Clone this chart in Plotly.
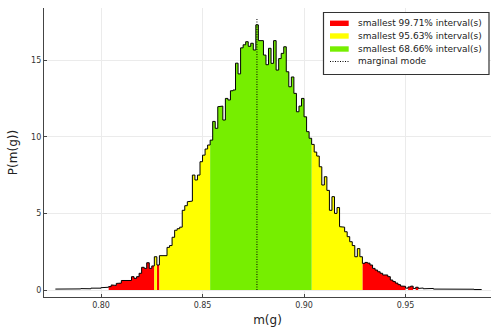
import plotly.graph_objects as go

# ---------------- data ----------------
bin_start = 0.7775
bin_width = 0.00125
density = [
    # 0.7775 .. (left tail, unshaded)
    0.06, 0.05, 0.08, 0.04, 0.06, 0.07, 0.05, 0.08, 0.06, 0.07, 0.09, 0.06, 0.10, 0.08, 0.12, 0.10,
    0.14, 0.12, 0.15, 0.16, 0.18,
    # 0.80375 .. 0.82875
    0.22, 0.33, 0.30, 0.43, 0.45, 0.62, 0.58, 0.60, 0.62, 0.87, 0.76, 0.87, 1.09, 1.48, 1.41, 1.78,
    1.41, 1.57, 2.17, 1.63,
    # 0.82875 .. 0.85375
    2.24, 2.24, 2.24, 2.78, 2.90, 3.44, 3.90, 4.00, 4.10, 5.20, 5.50, 5.76, 5.80, 7.50, 7.18, 7.50,
    8.37, 8.80, 9.20, 9.46,
    # 0.85375 .. 0.90375
    9.78, 11.00, 10.55, 11.96, 12.00, 11.09, 12.50, 12.40, 13.00, 13.05, 14.80, 14.10, 15.80, 16.00,
    16.20, 15.90, 16.10, 15.66, 17.30, 16.27, 16.27, 15.33, 14.70, 15.77, 14.79, 16.27, 14.35, 15.10,
    15.44, 15.87, 14.24, 13.26, 13.90, 12.83, 11.63, 12.00, 12.50, 11.30, 10.33, 9.90,
    # 0.90375 .. 0.92875
    9.50, 9.00, 8.74, 8.04, 6.85, 7.39, 6.50, 5.20, 6.09, 5.00, 5.38, 4.13, 4.10, 3.80, 3.48, 3.15,
    2.90, 2.17, 2.70, 2.17,
    # 0.92875 .. right tail
    1.74, 1.80, 1.75, 1.63, 1.41, 1.30, 1.19, 1.09, 0.98, 0.98, 0.87, 0.65, 0.55, 0.45, 0.35, 0.26,
    0.24, 0.12, 0.20, 0.25, 0.10, 0.18,
    0.10, 0.13, 0.08, 0.12, 0.08, 0.10, 0.06, 0.05, 0.05, 0.04, 0.05, 0.05, 0.04, 0.05, 0.04, 0.05,
    0.08, 0.05, 0.04, 0.07, 0.04, 0.05, 0.03, 0.04, 0.03,
]
mode_value = 0.8768
mode_height = 17.75

red_intervals = [(0.80375, 0.82625), (0.82750, 0.82875), (0.92875, 0.95000),
                 (0.95125, 0.95375), (0.95500, 0.95625)]
yellow_intervals = [(0.82625, 0.82750), (0.82875, 0.85375), (0.90375, 0.92875)]
green_intervals = [(0.85375, 0.90375)]

legend_labels = ["smallest 99.71% interval(s)", "smallest 95.63% interval(s)",
                 "smallest 68.66% interval(s)", "marginal mode"]
interval_colors = ["#FF0000", "#FFFF00", "#76EE00"]
x_title = "m(g)"
y_title = "P(m(g))"

# ---------------- figure ----------------
W, H = 491, 327
ML, MR, MT, MB = 44, 0, 8, 30
PW, PH = W - ML - MR, H - MT - MB


def px_x(p):  # pixel -> paper
    return (p - ML) / PW


def px_y(p):
    return (H - MB - p) / PH


edges = [bin_start + i * bin_width for i in range(len(density) + 1)]

fig = go.Figure()


def add_region(lo, hi, color, name):
    xs, ys = [lo], [0]
    for i, d in enumerate(density):
        a, b = edges[i], edges[i + 1]
        if a >= lo - 1e-9 and b <= hi + 1e-9:
            xs += [a, b]
            ys += [d, d]
    xs.append(hi)
    ys.append(0)
    fig.add_trace(go.Scatter(
        x=xs, y=ys, mode="lines", fill="toself", fillcolor=color,
        line=dict(width=0, color=color), name=name, showlegend=False, hoverinfo="skip"))


for intervals, color, label in zip([red_intervals, yellow_intervals, green_intervals],
                                   interval_colors, legend_labels[:3]):
    for lo, hi in intervals:
        add_region(lo, hi, color, label)

# outline
ox, oy = [], []
for i, d in enumerate(density):
    ox += [edges[i], edges[i + 1]]
    oy += [d, d]
fig.add_trace(go.Scatter(x=ox, y=oy, mode="lines", line=dict(color="black", width=1),
                         showlegend=False, hoverinfo="skip"))

fig.add_trace(go.Scatter(x=[mode_value, mode_value], y=[0, mode_height], mode="lines",
                         line=dict(color="black", width=1, dash="1px,1.5px"),
                         name=legend_labels[3], showlegend=False))

# ---- custom legend (tight rows like the original) ----
shapes = [dict(type="rect", xref="paper", yref="paper",
               x0=px_x(323.5), x1=px_x(489), y0=px_y(74.5), y1=px_y(12.5),
               line=dict(color="#333333", width=1.2), fillcolor="white", layer="above")]
annotations = []
row_y = [23.3, 36.0, 49.0, 61.5]
for i, lab in enumerate(legend_labels):
    yc = row_y[i]
    if i < 3:
        shapes.append(dict(type="rect", xref="paper", yref="paper",
                           x0=px_x(330), x1=px_x(348.7), y0=px_y(yc + 2.7), y1=px_y(yc - 2.7),
                           line=dict(width=0), fillcolor=interval_colors[i], layer="above"))
    else:
        shapes.append(dict(type="line", xref="paper", yref="paper",
                           x0=px_x(330), x1=px_x(348.7), y0=px_y(yc), y1=px_y(yc),
                           line=dict(color="black", width=1, dash="1px,1.5px"), layer="above"))
    annotations.append(dict(xref="paper", yref="paper", x=px_x(355.5), y=px_y(yc),
                            xanchor="left", yanchor="middle", showarrow=False, text=lab,
                            font=dict(family="DejaVu Sans", size=9, color="#222222")))

axis_common = dict(
    showline=True, linecolor="#444444", linewidth=1.2, mirror=False,
    ticks="inside", ticklen=3, tickcolor="#444444",
    showgrid=True, gridcolor="#ebebeb", gridwidth=1, zeroline=False,
    tickfont=dict(family="DejaVu Sans", size=8, color="#333333"),
)

fig.update_layout(
    width=W, height=H,
    margin=dict(l=ML, r=MR, t=MT, b=MB),
    plot_bgcolor="white", paper_bgcolor="white",
    font=dict(family="DejaVu Sans", color="#222222"),
    xaxis=dict(range=[0.7719, 0.9921], tick0=0.80, dtick=0.05, tickformat=".2f",
               title=dict(text=x_title, font=dict(size=12), standoff=6), **axis_common),
    yaxis=dict(range=[-0.457, 18.4], tick0=0, dtick=5,
               title=dict(text=y_title, font=dict(size=12), standoff=10), **axis_common),
    shapes=shapes, annotations=annotations,
    showlegend=False,
)

fig.write_html("out.html")
